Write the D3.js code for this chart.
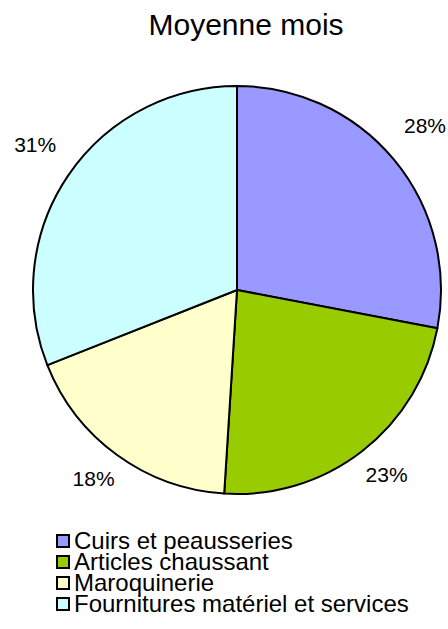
<!DOCTYPE html>
<html>
<head>
<meta charset="utf-8">
<script src="https://cdn.jsdelivr.net/npm/d3@7"></script>
<style>
  body { margin: 0; background: #fff; }
  text { font-family: "Liberation Sans", Arial, sans-serif; fill: #000; }
</style>
</head>
<body>
<div id="chart"></div>
<script>
// data
var categories = ["Cuirs et peausseries", "Articles chaussant", "Maroquinerie", "Fournitures matériel et services"];
var values = [28, 23, 18, 31];
var colors = ["#9999FF", "#99CC00", "#FFFFCC", "#CCFFFF"];
var title = "Moyenne mois";

var w = 448, h = 629;
var cx = 237, cy = 290, radius = 204;

var svg = d3.select("#chart")
	.append("svg")
		.attr("width", w)
		.attr("height", h);

svg.append("text")
	.attr("x", 246)
	.attr("y", 35)
	.attr("text-anchor", "middle")
	.style("font-size", "30px")
	.text(title);

var rows = categories.map(function(c, i){ return {name: c, value: values[i], color: colors[i]}; });

var pie = d3.pie()
	.sort(null)
	.value(function(d){ return d.value; });

var arc = d3.arc()
	.innerRadius(0)
	.outerRadius(radius);

var labelArc = d3.arc()
	.innerRadius(244)
	.outerRadius(244);

var total = d3.sum(values);

var g = svg.append("g")
	.attr("transform", "translate(" + cx + "," + cy + ")");

g.selectAll(".slice")
	.data(pie(rows))
	.enter()
	.append("path")
	.attr("class", "slice")
	.attr("d", arc)
	.attr("fill", function(d){ return d.data.color; })
	.attr("stroke", "#000")
	.attr("stroke-width", 2)
	.attr("stroke-linejoin", "round");

g.selectAll(".lbl")
	.data(pie(rows))
	.enter()
	.append("text")
	.attr("class", "lbl")
	.attr("transform", function(d){
		var p = labelArc.centroid(d);
		return "translate(" + p[0] + "," + (p[1] - 1) + ")";
	})
	.attr("text-anchor", "middle")
	.style("font-size", "21px")
	.text(function(d){ return Math.round(100 * d.data.value / total) + "%"; });

// legend
var legend = svg.append("g")
	.attr("transform", "translate(56,534)");

var item = legend.selectAll(".item")
	.data(rows)
	.enter()
	.append("g")
	.attr("class", "item")
	.attr("transform", function(d, i){ return "translate(0," + (i * 21) + ")"; });

item.append("rect")
	.attr("x", 1)
	.attr("y", 1)
	.attr("width", 12)
	.attr("height", 12)
	.attr("fill", function(d){ return d.color; })
	.attr("stroke", "#000")
	.attr("stroke-width", 2);

item.append("text")
	.attr("x", 18)
	.attr("y", 15)
	.style("font-size", "24px")
	.text(function(d){ return d.name; });
</script>
</body>
</html>
